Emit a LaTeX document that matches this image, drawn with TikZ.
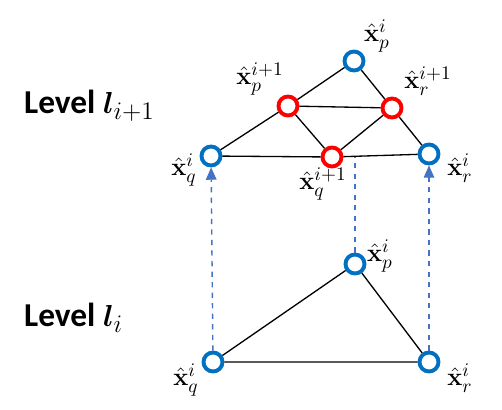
\documentclass[tikz,border=0pt]{standalone}
\usepackage{amsmath}
\usepackage{bm}
\usepackage[no-math]{fontspec}
\setmainfont{Carlito}
\usetikzlibrary{arrows.meta}
\definecolor{vblue}{RGB}{0,112,192}
\definecolor{vred}{RGB}{255,0,0}
\definecolor{lblue}{RGB}{68,114,196}
\begin{document}
\begin{tikzpicture}[x=0.02cm, y=-0.02cm,
    oldpt/.style={circle, draw=vblue, line width=2.2pt, fill=white, minimum size=0.38cm, inner sep=0pt},
    newpt/.style={circle, draw=vred, line width=2.2pt, fill=white, minimum size=0.38cm, inner sep=0pt},
    edge/.style={black, line width=0.75pt},
    link/.style={lblue, dashed, line width=0.8pt},
    lbl/.style={font=\fontsize{15.5}{17}\selectfont, inner sep=0pt}]
    \useasboundingbox (0,0) rectangle (502,409);

    % 层标签
    \node[font=\bfseries\fontsize{19}{22}\selectfont, anchor=west] (top) at (18,106) {Level $\bm{l}_{i+1}$};
    \node[font=\bfseries\fontsize{19}{22}\selectfont, anchor=west] (bot) at (18,318) {Level $\bm{l}_{i}$};

    % 下层三角形
    \node[oldpt] (bp) at (355,264) {};
    \node[oldpt] (bq) at (213,362) {};
    \node[oldpt] (br) at (429,362) {};
    \draw[edge] (bq) -- (bp) -- (br) -- (bq);

    % 上层三角形
    \node[oldpt] (tp) at (354,61) {};
    \node[oldpt] (tq) at (211,156) {};
    \node[oldpt] (tr) at (429,154) {};
    \node[newpt] (np) at (288,106) {};
    \node[newpt] (nr) at (392,108) {};
    \node[newpt] (nq) at (332,157) {};
    \draw[edge] (tq) -- (np) -- (tp) -- (nr) -- (tr) -- (nq) -- (tq);
    \draw[edge] (np) -- (nr) -- (nq) -- (np);
    \coordinate (mid) at (355,156.5);

    % 虚线连接
    \draw[link, -{Triangle[length=7pt, width=6pt]}] (bq) -- (tq);
    \draw[link, -{Triangle[length=7pt, width=6pt]}] (br) -- (tr);
    \draw[link] (bp) -- (mid);

    % 标注
    \node[lbl] (lp) at (377,36) {$\hat{\mathbf{x}}_p^i$};
    \node[lbl] (lq) at (184,170) {$\hat{\mathbf{x}}_q^i$};
    \node[lbl] (lr) at (460,168) {$\hat{\mathbf{x}}_r^i$};
    \node[lbl] (lnp) at (260,79) {$\hat{\mathbf{x}}_p^{i+1}$};
    \node[lbl] (lnr) at (428,81) {$\hat{\mathbf{x}}_r^{i+1}$};
    \node[lbl] (lnq) at (323,184) {$\hat{\mathbf{x}}_q^{i+1}$};
    \node[lbl] (lbp) at (380,256) {$\hat{\mathbf{x}}_p^i$};
    \node[lbl] (lbq) at (186,380) {$\hat{\mathbf{x}}_q^i$};
    \node[lbl] (lbr) at (460,378) {$\hat{\mathbf{x}}_r^i$};
\end{tikzpicture}
\end{document}
